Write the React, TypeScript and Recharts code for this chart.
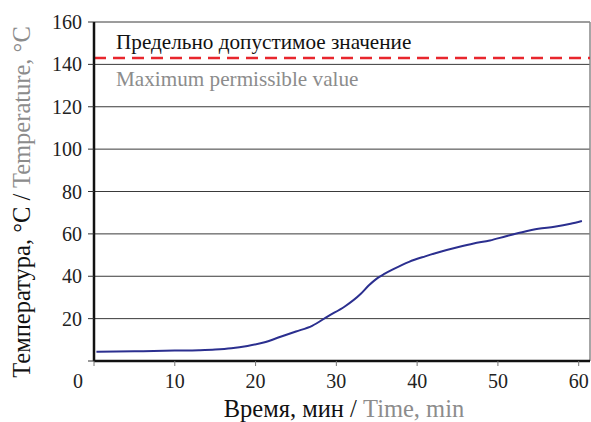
import {
  LineChart,
  Line,
  XAxis,
  YAxis,
  CartesianGrid,
  ReferenceLine,
} from "recharts";

// time, min
const times = [
  0.3, 5, 10, 13, 15, 17, 19, 21, 23, 25, 27, 29, 31, 33, 34, 35, 36, 37, 39,
  41, 43, 45, 47, 49, 51, 53, 55, 57, 59, 60.4,
];
// temperature, °C
const temps = [
  4.4, 4.6, 4.9, 5.1, 5.4, 6.0, 7.1, 8.7, 11.3, 13.9, 16.6, 21.2, 25.6, 31.6,
  35.6, 38.9, 41.2, 43.2, 46.8, 49.4, 51.7, 53.7, 55.5, 56.9, 58.9, 60.8, 62.4,
  63.4, 64.8, 66.1,
];
const xTicks = [0, 10, 20, 30, 40, 50, 60];
const yTicks = [0, 20, 40, 60, 80, 100, 120, 140, 160];
const limitValue = 143;
const xMax = 61.4;

const data = times.map((t, i) => ({ t, temp: temps[i] }));

const FONT = '"Liberation Serif", "Times New Roman", serif';
const GRAY = "#8c8c8c";

const XTick = ({ x, y, payload }: any) => (
  <text
    x={payload.value === 0 ? x - 16 : x}
    y={y}
    dy="0.71em"
    textAnchor="middle"
    fontFamily={FONT}
    fontSize={20}
    fill="#222"
  >
    {payload.value}
  </text>
);

const YTick = ({ x, y, payload }: any) =>
  payload.value === 0 ? null : (
    <text
      x={x}
      y={y}
      dy="0.355em"
      textAnchor="end"
      fontFamily={FONT}
      fontSize={20}
      fill="#222"
    >
      {payload.value}
    </text>
  );

const LimitLabel = ({ viewBox }: any) => {
  const { x, y } = viewBox;
  return (
    <g fontFamily={FONT} fontSize={21.2}>
      <text x={x + 22} y={y - 9} fill="#111">
        Предельно допустимое значение
      </text>
      <text x={x + 22} y={y + 28} fill={GRAY}>
        Maximum permissible value
      </text>
    </g>
  );
};

const YLabel = () => (
  <text
    x={30}
    y={202}
    transform="rotate(-90, 30, 202)"
    textAnchor="middle"
    fontFamily={FONT}
    fontSize={24.5}
  >
    <tspan fill="#111">Температура, °C / </tspan>
    <tspan fill={GRAY}>Temperature, °C</tspan>
  </text>
);

const XLabel = () => (
  <text
    x={344}
    y={417}
    textAnchor="middle"
    fontFamily={FONT}
    fontSize={24.5}
  >
    <tspan fill="#111">Время, мин / </tspan>
    <tspan fill={GRAY}>Time, min</tspan>
  </text>
);

export default function App() {
  return (
    <div style={{ position: "fixed", left: 0, top: 0, background: "#fff" }}>
      <LineChart
        width={591}
        height={422}
        data={data}
        margin={{ top: 22, right: 1, left: 0, bottom: 0 }}
      >
        <CartesianGrid vertical={false} stroke="#3a3a3a" strokeWidth={1} />
        <XAxis
          type="number"
          dataKey="t"
          domain={[0, xMax]}
          ticks={xTicks}
          height={61}
          tickSize={5}
          tickMargin={8}
          tick={<XTick />}
          tickLine={{ stroke: "#777" }}
          axisLine={{ stroke: "#111", strokeWidth: 2.5 }}
          label={<XLabel />}
        />
        <YAxis
          type="number"
          domain={[0, 160]}
          ticks={yTicks}
          width={94}
          tickSize={6}
          tickMargin={6}
          tick={<YTick />}
          tickLine={{ stroke: "#333" }}
          axisLine={{ stroke: "#111", strokeWidth: 2.5 }}
          label={<YLabel />}
        />
        <ReferenceLine x={xMax} stroke="#888" strokeWidth={1.5} />
        <ReferenceLine
          y={limitValue}
          stroke="#e8262d"
          strokeWidth={2.5}
          strokeDasharray="12 7"
          label={<LimitLabel />}
        />
        <Line
          type="monotone"
          dataKey="temp"
          stroke="#2b2f8f"
          strokeWidth={2}
          dot={false}
          isAnimationActive={false}
        />
      </LineChart>
    </div>
  );
}
